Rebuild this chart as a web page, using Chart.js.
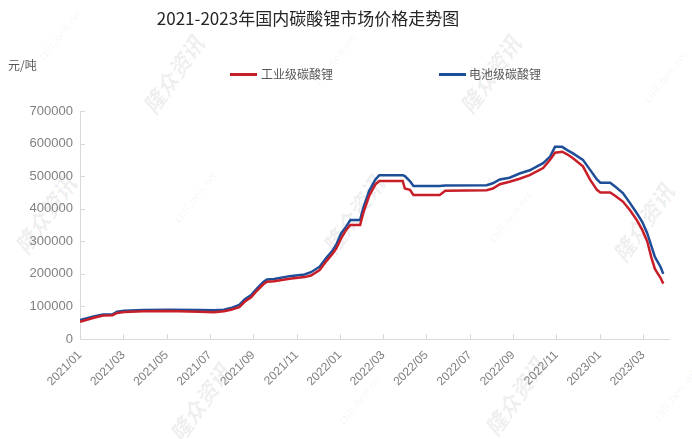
<!DOCTYPE html>
<html><head><meta charset="utf-8">
<script src="https://cdn.jsdelivr.net/npm/chart.js@4.4.1/dist/chart.umd.min.js"></script>
<style>
html,body{margin:0;padding:0;background:#fff;}
#wrap{position:relative;width:692px;height:439px;overflow:hidden;background:#fff;}
canvas{position:absolute;left:0;top:0;z-index:2;}
.wm{position:absolute;z-index:1;white-space:nowrap;transform-origin:center center;}
.wmc{color:rgba(0,0,0,0.075);font:italic bold 22px "Noto Sans CJK SC";}
.wme{color:rgba(0,0,0,0.06);font:italic 12px "Liberation Serif";}
#title{position:absolute;z-index:3;left:0;top:7px;width:616px;text-align:center;font:17px/22px "Noto Sans CJK SC";color:#262626;}
#unit{position:absolute;z-index:3;left:8px;top:57px;font:12px/16px "Noto Sans CJK SC";color:#595959;}
.lg{position:absolute;z-index:3;height:3px;width:27px;}
.lt{position:absolute;z-index:3;font:12px/16px "Noto Sans CJK SC";color:#595959;}
</style></head>
<body><div id="wrap">
<div class="wm wme" style="left:30px;top:28px;transform:rotate(-52deg)">OilChem.net</div>
<div class="wm wmc" style="left:128px;top:58px;transform:rotate(-55deg)">隆众资讯</div>
<div class="wm wme" style="left:305px;top:52px;transform:rotate(-52deg)">OilChem.net</div>
<div class="wm wmc" style="left:445px;top:58px;transform:rotate(-55deg)">隆众资讯</div>
<div class="wm wme" style="left:635px;top:70px;transform:rotate(-52deg)">OilChem.net</div>
<div class="wm wmc" style="left:0px;top:198px;transform:rotate(-55deg)">隆众资讯</div>
<div class="wm wme" style="left:165px;top:190px;transform:rotate(-52deg)">OilChem.net</div>
<div class="wm wmc" style="left:308px;top:198px;transform:rotate(-55deg)">隆众资讯</div>
<div class="wm wme" style="left:480px;top:210px;transform:rotate(-52deg)">OilChem.net</div>
<div class="wm wmc" style="left:598px;top:206px;transform:rotate(-55deg)">隆众资讯</div>
<div class="wm wmc" style="left:155px;top:386px;transform:rotate(-55deg)">隆众资讯</div>
<div class="wm wme" style="left:330px;top:392px;transform:rotate(-52deg)">OilChem.net</div>
<div class="wm wmc" style="left:470px;top:380px;transform:rotate(-55deg)">隆众资讯</div>
<div class="wm wme" style="left:645px;top:388px;transform:rotate(-52deg)">OilChem.net</div>

<div id="title">2021-2023年国内碳酸锂市场价格走势图</div>
<div id="unit">元/吨</div>
<div class="lg" style="left:230px;top:73px;background:#C81E28"></div>
<div class="lt" style="left:261px;top:66px">工业级碳酸锂</div>
<div class="lg" style="left:439px;top:73px;background:#1F4E99"></div>
<div class="lt" style="left:469px;top:66px">电池级碳酸锂</div>
<canvas id="c" width="692" height="439"></canvas>
</div>
<script>
// ---- data (元/吨) ----
const dates = [
 '2021-01-01','2021-01-11','2021-01-22','2021-02-03','2021-02-15','2021-02-21','2021-03-02','2021-03-30',
 '2021-05-04','2021-06-16','2021-07-07','2021-07-21','2021-07-31','2021-08-12','2021-08-20','2021-08-29',
 '2021-09-06','2021-09-15','2021-09-20','2021-09-30','2021-10-22','2021-11-12','2021-11-21','2021-12-03',
 '2021-12-13','2021-12-21','2021-12-27','2022-01-03','2022-01-10','2022-01-16','2022-01-30','2022-02-03',
 '2022-02-11','2022-02-19','2022-02-24','2022-03-29','2022-04-01','2022-04-08','2022-04-13','2022-05-20',
 '2022-05-28','2022-07-25','2022-08-03','2022-08-13','2022-08-27','2022-09-10','2022-09-24','2022-10-13',
 '2022-10-23','2022-10-30','2022-11-09','2022-11-16','2022-11-24','2022-12-08','2022-12-18','2022-12-28',
 '2023-01-02','2023-01-16','2023-01-23','2023-02-03','2023-02-12','2023-02-21','2023-02-28','2023-03-07',
 '2023-03-13','2023-03-18','2023-03-26','2023-03-30'
];
const industrialGrade = [
 53000,59000,66000,72000,73000,80000,83000,85000,
 86000,84000,82000,85000,90000,98000,115000,128000,
 148000,168000,176000,177000,185000,190000,195000,212000,
 240000,260000,278000,310000,335000,350000,350000,385000,
 440000,475000,485000,485000,462000,458000,442000,442000,
 455000,457000,462000,475000,483000,492000,503000,525000,
 550000,572000,575000,567000,555000,530000,490000,458000,
 450000,450000,440000,422000,396000,365000,335000,300000,
 250000,215000,188000,170000
];
const batteryGrade = [
 58000,64000,70000,75000,76000,84000,87000,89000,
 90000,89000,88000,90000,95000,105000,122000,135000,
 155000,175000,183000,184000,193000,198000,205000,222000,
 250000,270000,290000,325000,345000,365000,365000,400000,
 455000,490000,503000,503000,500000,485000,470000,470000,
 471000,472000,478000,490000,495000,508000,518000,540000,
 560000,590000,590000,580000,570000,550000,520000,490000,
 480000,480000,468000,448000,418000,386000,360000,325000,
 285000,252000,222000,200000
];
const seriesNames = ['工业级碳酸锂','电池级碳酸锂'];
const tickMonths = [0,2,4,6,8,10,12,14,16,18,20,22,24,26];
const tickLabels = ['2021/01','2021/03','2021/05','2021/07','2021/09','2021/11','2022/01','2022/03','2022/05','2022/07','2022/09','2022/11','2023/01','2023/03'];
const yMin = 0, yMax = 700000, yStep = 100000;

function monthIndex(s){
  const [y,m,d] = s.split('-').map(Number);
  const dim = new Date(y, m, 0).getDate();
  return (y-2021)*12 + (m-1) + (d-1)/dim;
}
const toPts = arr => arr.map((v,i)=>({x:monthIndex(dates[i]), y:v}));

const innerTicks = {
  id:'innerTicks',
  afterDraw(chart){
    const ctx = chart.ctx, xs = chart.scales.x, ys = chart.scales.y;
    ctx.save();
    ctx.strokeStyle = '#d9d9d9'; ctx.lineWidth = 1;
    ctx.beginPath();
    xs.ticks.forEach(t=>{ const px = Math.round(xs.getPixelForValue(t.value))+0.5;
      ctx.moveTo(px, ys.bottom); ctx.lineTo(px, ys.bottom-5); });
    ys.ticks.forEach(t=>{ const py = Math.round(ys.getPixelForValue(t.value))+0.5;
      ctx.moveTo(xs.left, py); ctx.lineTo(xs.left+5, py); });
    ctx.stroke();
    ctx.restore();
  }
};

new Chart(document.getElementById('c'), {
  type:'line',
  data:{datasets:[
    {label:seriesNames[0], data:toPts(industrialGrade), borderColor:'#C81E28', borderWidth:2.5, pointRadius:0, tension:0, fill:false},
    {label:seriesNames[1], data:toPts(batteryGrade), borderColor:'#1F4E99', borderWidth:2.5, pointRadius:0, tension:0, fill:false}
  ]},
  options:{
    responsive:false, animation:false, devicePixelRatio:1,
    layout:{padding:{top:111,right:23,left:0,bottom:0}},
    plugins:{legend:{display:false}, title:{display:false}, tooltip:{enabled:false}},
    scales:{
      x:{type:'linear', min:0, max:27.2,
        afterBuildTicks:s=>{ s.ticks = tickMonths.map(v=>({value:v})); },
        afterFit:s=>{ s.height = 100; },
        grid:{display:false, drawTicks:false},
        border:{display:true, color:'#d9d9d9', width:1},
        ticks:{autoSkip:false, minRotation:45, maxRotation:45, padding:9, color:'#808080',
          font:{size:12, family:'Liberation Sans'}, callback:(v,i)=>tickLabels[i]}
      },
      y:{min:yMin, max:yMax,
        afterFit:s=>{ s.width = 80; },
        grid:{display:false, drawTicks:false},
        border:{display:true, color:'#d9d9d9', width:1},
        ticks:{stepSize:yStep, padding:7, color:'#808080', font:{size:13, family:'Liberation Sans'},
          callback:v=>String(v)}
      }
    }
  },
  plugins:[innerTicks]
});
</script>
</body></html>
